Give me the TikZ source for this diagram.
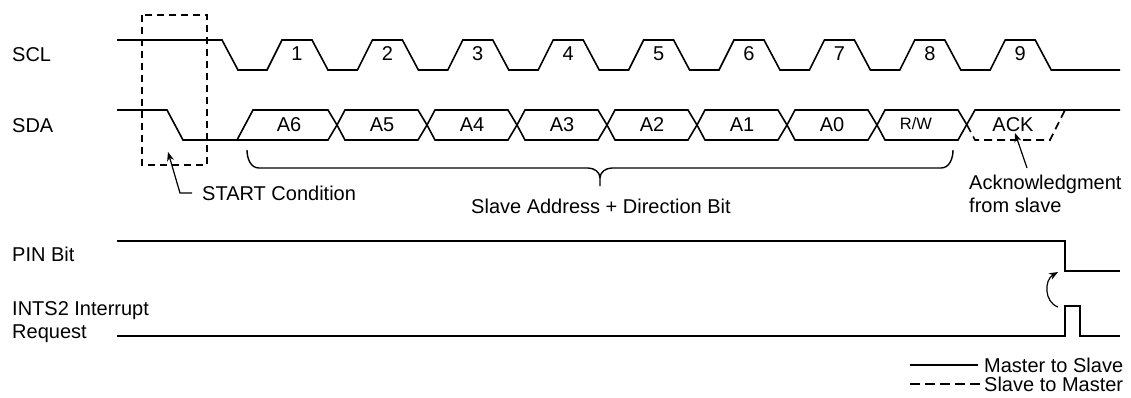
\documentclass[tikz,border=0pt]{standalone}
\usepackage{fontspec}
\setmainfont{Liberation Sans}
\usetikzlibrary{arrows.meta}
\begin{document}
\begin{tikzpicture}[x=1pt,y=-1pt,
  sig/.style={line width=1.6pt,line join=miter},
  dsig/.style={line width=1.6pt,dash pattern=on 8pt off 5pt},
  lbl/.style={font=\fontsize{20}{23}\selectfont,inner sep=0pt},
  small/.style={font=\fontsize{16.5}{20}\selectfont,inner sep=0pt},
  arr/.style={line width=1.2pt,-{Stealth[length=9pt,width=7pt]}}]
\useasboundingbox (0,0) rectangle (1131,398);
% left labels
\node[lbl,anchor=west] (scl) at (12,55) {SCL};
\node[lbl,anchor=west] (sda) at (12,126) {SDA};
\node[lbl,anchor=west] (pin) at (12,254) {PIN Bit};
\node[lbl,anchor=west,align=left] (ints) at (12,322) {INTS2 Interrupt\\Request};
% SCL
\draw[sig] (117,40) -- (222,40) -- (238,70)
  \foreach \k in {0,...,8} { -- ({267+90.4*\k},70) -- ({282+90.4*\k},40) -- ({312+90.4*\k},40) -- ({328+90.4*\k},70) }
  -- (1120,70);
\foreach \k in {1,...,9} \node[lbl] (n\k) at ({297+90.4*(\k-1)},54) {\k};
% SDA
\draw[sig] (117,110) -- (167,110) -- (183,140) -- (237,140) -- (253,110) -- (328,110) -- (337,125) -- (328,140) -- (237,140);
\foreach \j in {1,...,6} {
  \pgfmathsetmacro{\a}{337+90*(\j-1)}
  \pgfmathsetmacro{\b}{\a+90}
  \draw[sig] (\a,125) -- ({\a+8},110) -- ({\b-9},110) -- (\b,125) -- ({\b-9},140) -- ({\a+8},140) -- cycle;
}
% R/W cell
\draw[sig] (877,125) -- (885,110) -- (958,110) -- (967,125);
\draw[sig] (877,125) -- (885,140) -- (958,140) -- (975,110) -- (1120,110);
\draw[dsig] (967,125) -- (975,140) -- (1050,140) -- (1065,110);
% cell labels
\node[lbl] (a6) at (289,125) {A6};
\node[lbl] (a5) at (382,125) {A5};
\node[lbl] (a4) at (472,125) {A4};
\node[lbl] (a3) at (562,125) {A3};
\node[lbl] (a2) at (652,125) {A2};
\node[lbl] (a1) at (742,125) {A1};
\node[lbl] (a0) at (832,125) {A0};
\node[small] (rw) at (916,124) {R/W};
\node[lbl] (ack) at (1013,125) {ACK};
% START box
\draw[line width=1.4pt,dash pattern=on 7pt off 5pt] (142,15) rectangle (207,165);
\node[lbl,anchor=west] (start) at (202,193) {START Condition};
\coordinate (stTip) at (168,152);
\draw[arr] (start.west) ++(-10,0) coordinate (stA) -- ++(-12,0) coordinate (stB) -- (stTip);
% brace
\draw[line width=1.4pt] (247,150) to[out=-90,in=180] (259,168) -- (588,168) to[out=0,in=90] (600,178) -- (600,186);
\draw[line width=1.4pt] (600,178) to[out=90,in=180] (612,168) -- (941,168) to[out=0,in=-90] (953,150);
\node[lbl] (brl) at (601,206) {Slave Address + Direction Bit};
% Acknowledgment
\node[lbl,anchor=west,align=left] (ackl) at (969,194) {Acknowledgment\\from slave};
\coordinate (ackTip) at (1015,133);
\draw[arr] (1027,168) -- (ackTip);
% PIN bit
\draw[sig] (117,241) -- (1065,241) -- (1065,271) -- (1120,271);
% INTS2
\draw[sig] (117,336) -- (1065,336) -- (1065,306) -- (1080,306) -- (1080,336) -- (1120,336);
\draw[arr] (1058,307) .. controls (1044,302) and (1044,280) .. (1058,272);
% legend
\draw[line width=1.4pt] (910,365) -- (978,365);
\node[lbl,anchor=west] (ms) at (984,365) {Master to Slave};
\draw[line width=1.6pt,dash pattern=on 10pt off 5pt] (910,384) -- (980,384);
\node[lbl,anchor=west] (sm) at (984,384) {Slave to Master};
\end{tikzpicture}
\end{document}
